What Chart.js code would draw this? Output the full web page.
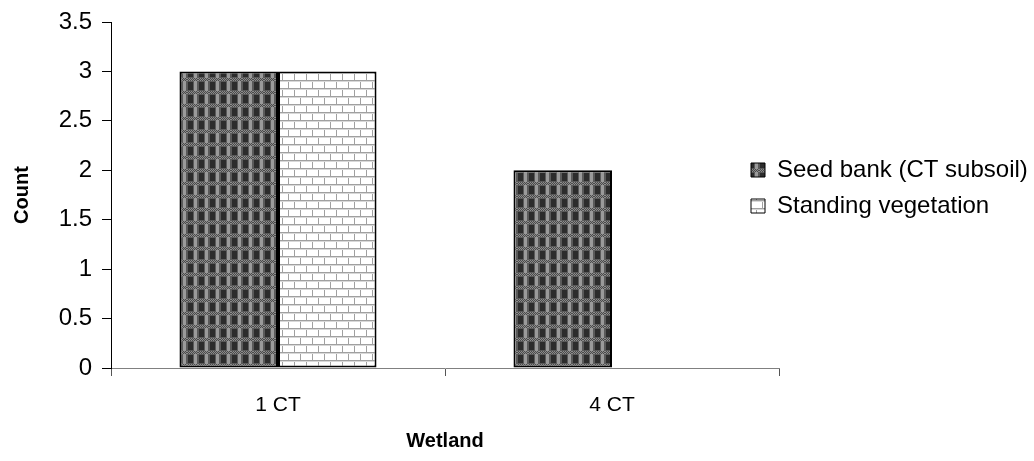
<!DOCTYPE html>
<html>
<head>
<meta charset="utf-8">
<script src="https://cdn.jsdelivr.net/npm/chart.js@4/dist/chart.umd.min.js"></script>
<style>
  html, body { margin: 0; padding: 0; background: #ffffff; }
  #wrap { width: 1034px; height: 461px; position: relative; }
</style>
</head>
<body>
<div id="wrap"><canvas id="c" width="1034" height="461"></canvas></div>
<script>
// ---- data ----
const categories = ['1 CT', '4 CT'];
const seedBank = [3, 2];
const standingVeg = [3, 0];
const seriesNames = ['Seed bank (CT subsoil)', 'Standing vegetation'];
const yMin = 0;
const yMax = 3.5;
const yStep = 0.5;
const xTitle = 'Wetland';
const yTitle = 'Count';

// ---- patterns ----
function makeSeedPattern() {
  const w = 11, h = 13;
  const c = document.createElement('canvas');
  c.width = w; c.height = h;
  const g = c.getContext('2d');
  g.fillStyle = '#5a5a5a';
  g.fillRect(0, 0, w, h);
  for (let y = 0; y < 3; y++) {
    for (let x = 0; x < w; x++) {
      g.fillStyle = ((x + y) % 2 === 0) ? '#8c8c8c' : '#4a4a4a';
      g.fillRect(x, y, 1, 1);
    }
  }
  g.fillStyle = '#2c2c2c';
  g.fillRect(1, 4, 5, 8);
  g.fillStyle = '#9a9a9a';
  g.fillRect(7, 3, 3, 10);
  return g.createPattern(c, 'repeat');
}
function makeBrickPattern() {
  const w = 12, h = 16;
  const c = document.createElement('canvas');
  c.width = w; c.height = h;
  const g = c.getContext('2d');
  g.fillStyle = '#ffffff';
  g.fillRect(0, 0, w, h);
  g.fillStyle = '#a0a0a0';
  g.fillRect(0, 0, w, 1);
  g.fillRect(0, 8, w, 1);
  g.fillRect(0, 1, 1, 7);
  g.fillRect(6, 9, 1, 7);
  g.fillStyle = '#d8d8d8';
  g.fillRect(0, 1, w, 1);
  g.fillRect(0, 9, w, 1);
  return g.createPattern(c, 'repeat');
}
const seedPattern = makeSeedPattern();
const brickPattern = makeBrickPattern();

const FONT = "'Liberation Sans', Arial, sans-serif";

const legendPlacer = {
  id: 'legendPlacer',
  afterLayout(chart) {
    const lg = chart.legend;
    if (!lg) return;
    lg.left = 739; lg.top = 146;
    lg.right = 1034; lg.bottom = 461;
    lg.width = lg.right - lg.left; lg.height = lg.bottom - lg.top;
  }
};

new Chart(document.getElementById('c'), {
  type: 'bar',
  data: {
    labels: categories,
    datasets: [
      { label: seriesNames[0], data: seedBank, backgroundColor: seedPattern,
        borderColor: '#000000', borderWidth: 2, borderSkipped: false },
      { label: seriesNames[1], data: standingVeg, backgroundColor: brickPattern,
        borderColor: '#000000', borderWidth: 2, borderSkipped: false }
    ]
  },
  options: {
    responsive: false,
    animation: false,
    devicePixelRatio: 1,
    layout: { padding: { top: 19, right: 255, bottom: 0, left: 0 } },
    datasets: { bar: { categoryPercentage: 0.59, barPercentage: 1.0 } },
    plugins: {
      tooltip: { enabled: false },
      legend: {
        position: 'chartArea',
        align: 'start',
        labels: {
          font: { family: FONT, size: 24 },
          color: '#000000',
          boxWidth: 14,
          boxHeight: 14,
          padding: 12,
          generateLabels(chart) {
            return chart.data.datasets.map((ds, i) => ({
              text: ds.label,
              fillStyle: ds.backgroundColor,
              strokeStyle: '#000000',
              lineWidth: 1,
              hidden: false,
              datasetIndex: i,
              fontColor: '#000000'
            }));
          }
        }
      }
    },
    scales: {
      x: {
        afterFit(s) { s.height = 93; },
        grid: { display: true, drawOnChartArea: false, drawTicks: true, tickLength: 8, color: '#555555', offset: true },
        border: { display: true, color: '#808080', width: 1 },
        ticks: { font: { family: FONT, size: 21 }, color: '#000000', padding: 17 },
        title: { display: true, text: xTitle, font: { family: FONT, size: 20, weight: 'bold' }, color: '#000000', padding: { top: 4, bottom: 8 } }
      },
      y: {
        min: yMin, max: yMax,
        afterFit(s) { s.width = 111; },
        grid: { display: true, drawOnChartArea: false, drawTicks: true, tickLength: 9, color: '#000000' },
        border: { display: true, color: '#000000', width: 1 },
        ticks: {
          stepSize: yStep, font: { family: FONT, size: 24, lineHeight: 1 }, color: '#000000', padding: 10,
          callback: (v) => String(Number(v))
        },
        title: { display: true, text: yTitle, font: { family: FONT, size: 20, weight: 'bold' }, color: '#000000', padding: { top: 10, bottom: 0 } }
      }
    }
  },
  plugins: [legendPlacer]
});
</script>
</body>
</html>
